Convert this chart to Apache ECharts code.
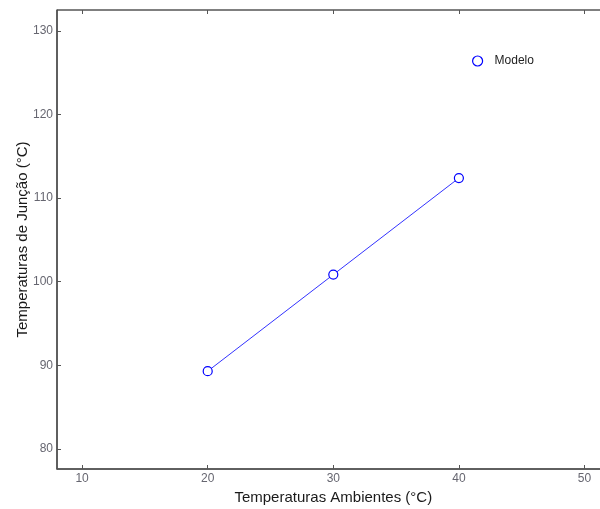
<!DOCTYPE html>
<html>
<head>
<meta charset="utf-8">
<title>Temperaturas de Junção</title>
<script src="https://cdn.jsdelivr.net/npm/echarts@6/dist/echarts.min.js"></script>
<style>
  html, body { margin: 0; padding: 0; background: #fff; }
  #chart { width: 600px; height: 509px; }
</style>
</head>
<body>
<div id="chart"></div>
<script>
// Ambient temperature (°C) and the modelled junction temperature (°C)
const ambientTemps = [20, 30, 40];
const junctionTemps = [89.3, 100.85, 112.4];
const seriesName = 'Modelo';

// Tick positions shown on each axis
const xTicks = [10, 20, 30, 40, 50];
const yTicks = [80, 90, 100, 110, 120, 130];

const FONT = '"Liberation Sans", Arial, sans-serif';
const axisGray = '#555555';
const labelGray = '#666670';

const chart = echarts.init(document.getElementById('chart'), null, { renderer: 'canvas' });

chart.setOption({
  backgroundColor: '#ffffff',
  animation: false,
  grid: {
    left: 57, top: 10, width: 552.6, height: 459,
    outerBoundsMode: 'none',
    containLabel: false,
    show: true, borderColor: '#000000', borderWidth: 1, backgroundColor: 'transparent'
  },
  legend: {
    left: 467, top: 50,
    itemWidth: 24, itemHeight: 10,
    data: [{
      name: seriesName,
      icon: 'circle',
      itemStyle: { color: '#ffffff', borderColor: '#0000ff', borderWidth: 1.2 }
    }],
    textStyle: { fontFamily: FONT, fontSize: 12, color: '#222222' }
  },
  xAxis: [{
    type: 'value', min: 8, max: 52, position: 'bottom',
    name: 'Temperaturas Ambientes (°C)', nameLocation: 'middle', nameGap: 19,
    nameTextStyle: { fontFamily: FONT, fontSize: 15, color: '#1a1a1a' },
    axisLine: { show: true, onZero: false, lineStyle: { color: axisGray, width: 1.5 } },
    axisTick: { show: true, inside: true, length: 4, customValues: xTicks, lineStyle: { color: axisGray } },
    axisLabel: { customValues: xTicks, margin: 4, fontFamily: FONT, fontSize: 12, color: labelGray },
    splitLine: { show: false }
  }, {
    type: 'value', min: 8, max: 52, position: 'top',
    axisLine: { show: false },
    axisTick: { show: true, inside: true, length: 4, customValues: xTicks, lineStyle: { color: axisGray } },
    axisLabel: { show: false },
    splitLine: { show: false }
  }],
  yAxis: {
    type: 'value', min: 77.6, max: 132.5,
    name: 'Temperaturas de Junção (°C)', nameLocation: 'middle', nameGap: 27,
    nameMoveOverlap: false,
    nameTextStyle: { fontFamily: FONT, fontSize: 15, color: '#1a1a1a' },
    axisLine: { show: true, onZero: false, lineStyle: { color: axisGray, width: 1.5 } },
    axisTick: { show: true, inside: true, length: 4, customValues: yTicks, lineStyle: { color: axisGray } },
    axisLabel: { customValues: yTicks, margin: 4, fontFamily: FONT, fontSize: 12, color: labelGray },
    splitLine: { show: false }
  },
  series: [{
    name: seriesName,
    type: 'line',
    xAxisIndex: 0,
    data: ambientTemps.map((t, i) => [t, junctionTemps[i]]),
    symbol: 'circle',
    symbolSize: 9,
    lineStyle: { color: '#3333ff', width: 1 },
    itemStyle: { color: '#ffffff', borderColor: '#0000ff', borderWidth: 1.2 }
  }]
});
</script>
</body>
</html>
